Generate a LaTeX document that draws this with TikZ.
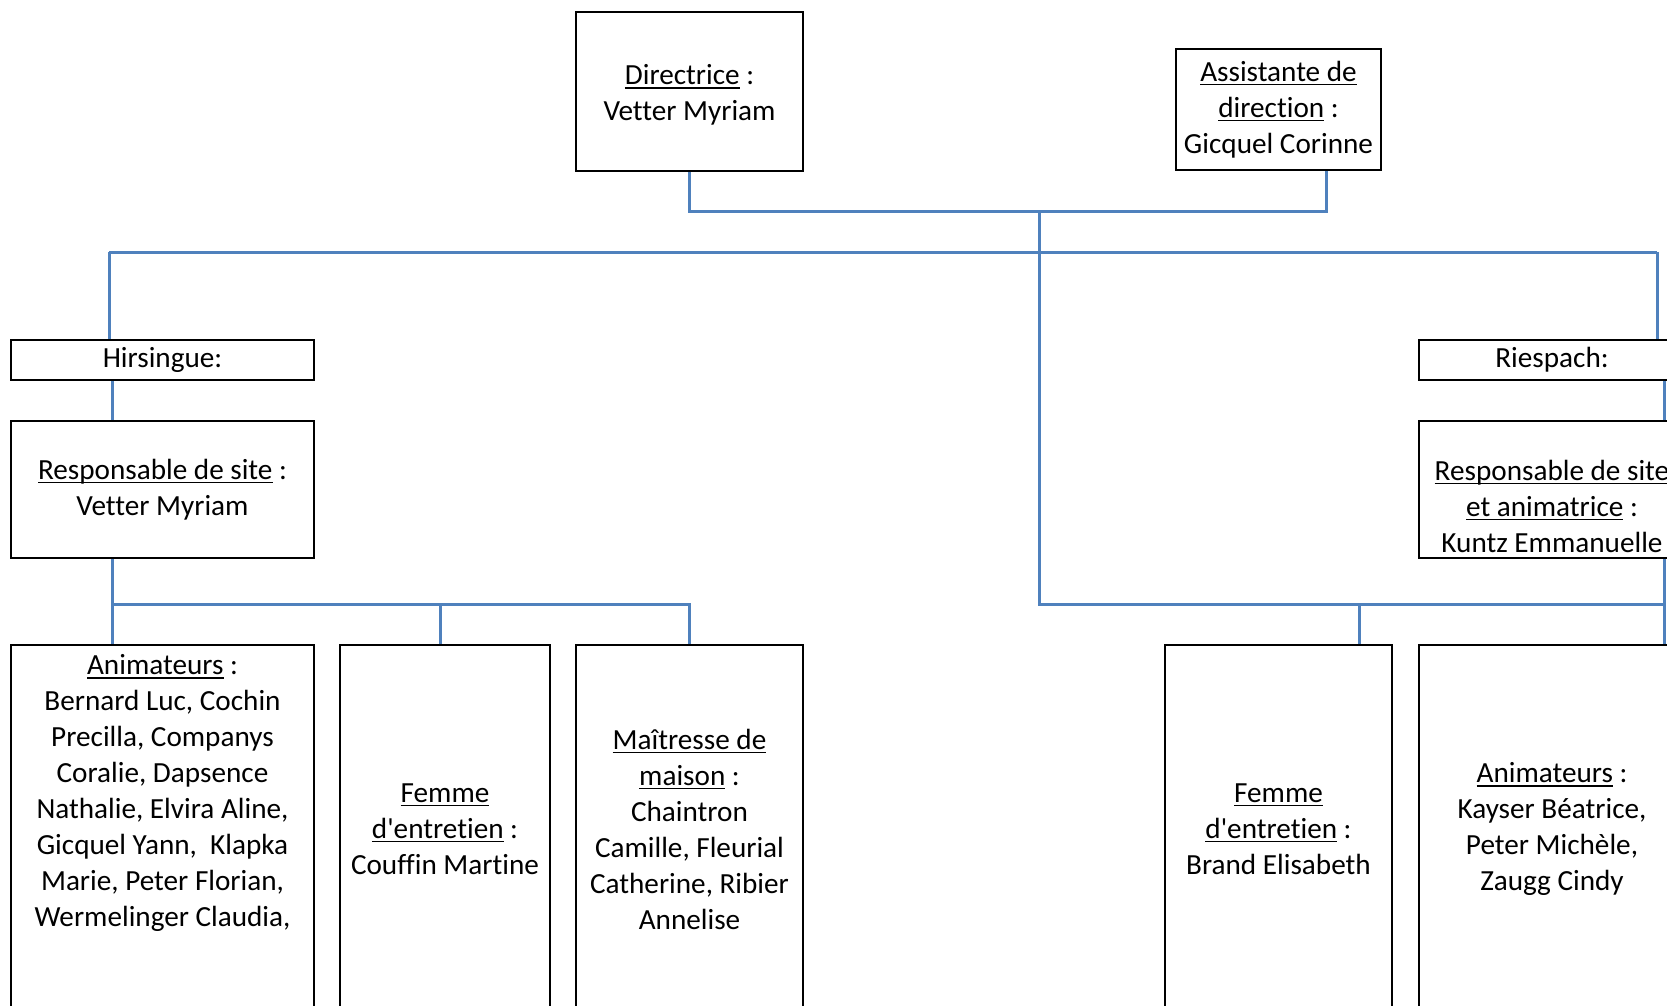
\documentclass[tikz,border=0pt]{standalone}
\usepackage{fontspec}
\setmainfont[Ligatures=NoCommon]{Carlito}
\usepackage{xcolor}
\usetikzlibrary{positioning}
\definecolor{linkblue}{RGB}{79,129,189}
\newsavebox{\ulbox}
\newcommand{\ulabel}[1]{\sbox{\ulbox}{#1}\rlap{\rule[-2pt]{\wd\ulbox}{0.75pt}}\usebox{\ulbox}}

\begin{document}
\begin{tikzpicture}[
  x=0.5pt, y=-0.5pt,
  unit/.style={draw, line width=1pt, inner sep=0pt, align=center,
    font=\fontsize{14.6}{18}\selectfont},
  unittext/.style={inner sep=0pt, align=center,
    font=\fontsize{14.6}{18}\selectfont},
  link/.style={draw=linkblue, line width=1.5pt}
]
\fill[white] (0,0) rectangle (1667,1006);
\useasboundingbox (0,0) rectangle (1667,1006);

% direction
\node[unit, minimum width=113.5pt, minimum height=79.5pt] (dir) at (689.5,91.5) {};
\node[unittext] (dirtext) at (689.5,95)
  {\ulabel{Directrice} :\\ Vetter Myriam};
\node[unit, minimum width=102.5pt, minimum height=60.5pt] (assist) at (1278.5,109.5)
  {\ulabel{Assistante de}\\ \ulabel{direction} :\\ Gicquel Corinne};

% sites
\node[unit, minimum width=151.5pt, minimum height=20pt] (hirs) at (162.5,360) {Hirsingue:};
\node[unit, minimum width=133pt, minimum height=20pt] (riesp) at (1552,360) {Riespach:};

\node[unit, minimum width=151.5pt, minimum height=68.5pt] (respL) at (162.5,489.5)
  {\ulabel{Responsable de site} :\\ Vetter Myriam};
\node[unit, minimum width=133pt, minimum height=68.5pt] (respR) at (1552,489.5) {};
\node[unittext] (respRtext) at (1552,506)
  {\ulabel{Responsable de site}\\ \ulabel{et animatrice} :\\ Kuntz Emmanuelle};

% staff
\node[unit, minimum width=151.5pt, minimum height=184pt] (animL) at (162.5,829) {};
\node[unittext] (animLtext) at (162.5,793)
  {\ulabel{Animateurs} :\\ Bernard Luc, Cochin\\ Precilla, Companys\\ Coralie, Dapsence\\
   Nathalie, Elvira Aline,\\ Gicquel Yann,~ Klapka\\ Marie, Peter Florian,\\ Wermelinger Claudia,};
\node[unit, minimum width=105pt, minimum height=184pt] (femmeL) at (445,829)
  {\ulabel{Femme}\\ \ulabel{d\textquotesingle entretien} :\\ Couffin Martine};
\node[unit, minimum width=113.5pt, minimum height=184pt] (maitr) at (689.5,829)
  {\ulabel{Maîtresse de}\\ \ulabel{maison} :\\ Chaintron\\ Camille, Fleurial\\ Catherine, Ribier\\ Annelise};
\node[unit, minimum width=113.5pt, minimum height=184pt] (femmeR) at (1278.5,829)
  {\ulabel{Femme}\\ \ulabel{d\textquotesingle entretien} :\\ Brand Elisabeth};
\node[unit, minimum width=133pt, minimum height=184pt] (animR) at (1552,829)
  {\ulabel{Animateurs} :\\ Kayser Béatrice,\\ Peter Michèle,\\ Zaugg Cindy};

% connectors
\coordinate (top) at (1039,212);
\coordinate (barL) at (109,252);
\coordinate (barR) at (1657,252);
\coordinate (siteL) at (112,604);
\coordinate (siteR) at (1664,604);
\coordinate (mid) at (1039,604);

\draw[link] (dir.south) |- (top) -| ([xshift=23.75pt]assist.south);
\draw[link] (top) -- (mid) -- (siteR);
\draw[link] (barL) -- (barR);
\draw[link] (barL) -- (barL |- hirs.north);
\draw[link] (barR) -- (barR |- riesp.north);
\draw[link] (hirs.south -| siteL) -- (respL.north -| siteL);
\draw[link] (respL.south -| siteL) -- (animL.north -| siteL);
\draw[link] (siteL) -| (maitr.north);
\draw[link] ([xshift=-2.5pt]femmeL.north) |- (siteL);
\draw[link] (mid) -| ([xshift=40.25pt]femmeR.north);
\draw[link] (riesp.south -| siteR) -- (respR.north -| siteR);
\draw[link] (respR.south -| siteR) -- (animR.north -| siteR);

\end{tikzpicture}
\end{document}
